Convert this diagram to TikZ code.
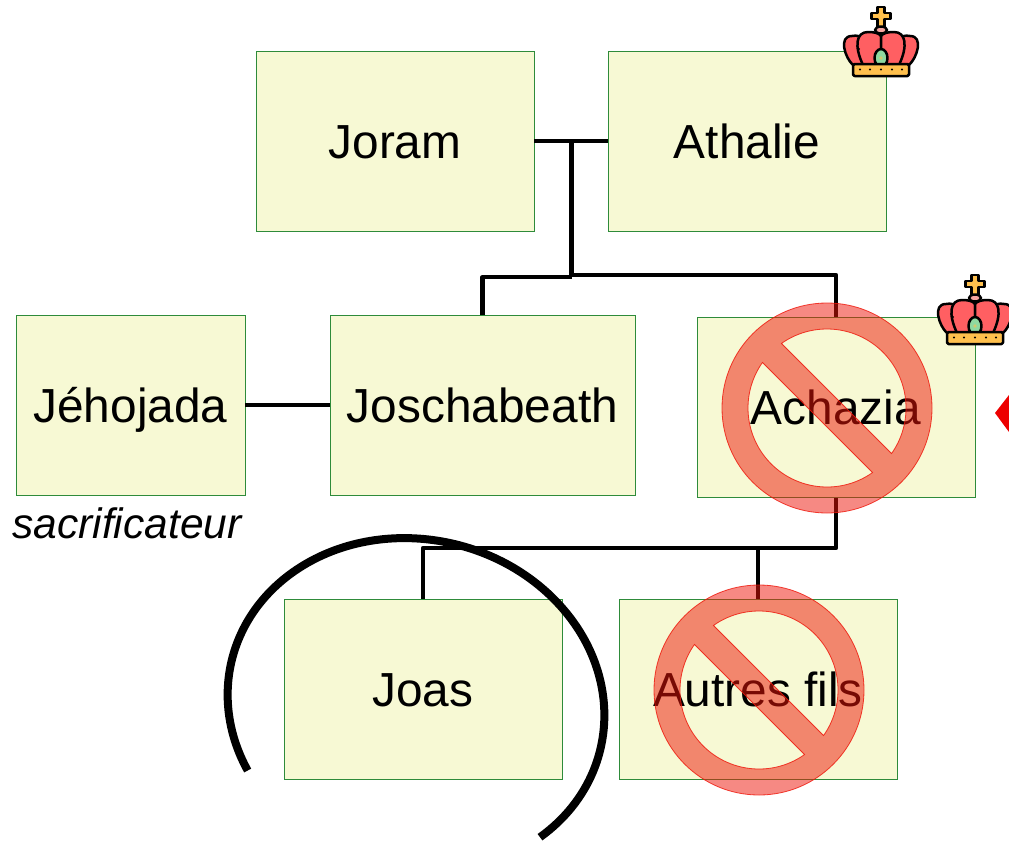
\documentclass[tikz,border=0pt]{standalone}
\usepackage{fontspec}
\setmainfont{Liberation Sans}
\usepackage{tikz}
\usetikzlibrary{positioning, calc}
\definecolor{boxfill}{HTML}{F7F9D4}
\definecolor{boxedge}{HTML}{2E8B3A}
\definecolor{crownred}{HTML}{FF5F62}
\definecolor{crowngold}{HTML}{FFC04D}
\definecolor{crownpink}{HTML}{F5A5A0}
\definecolor{crowngreen}{HTML}{8FD9A0}
\definecolor{banred}{HTML}{EE1408}
\tikzset{
  famille/.style={draw=boxedge, fill=boxfill, line width=.8pt, minimum width=278pt, minimum height=180pt,
    inner sep=0pt, text height=34pt, text depth=0pt, font=\fontsize{47.8}{50}\selectfont},
  lien/.style={line width=4.2pt, line join=round},
  crown/.pic={
    \begin{scope}[line width=2.5pt, draw=black, line join=round]
      \filldraw[fill=crowngold] (-3.5,-7) -- (3.5,-7) -- (3.5,-13) -- (9.5,-13) -- (9.5,-19) -- (3.5,-19)
        -- (3.5,-27) -- (-3.5,-27) -- (-3.5,-19) -- (-9.5,-19) -- (-9.5,-13) -- (-3.5,-13) -- cycle;
      \filldraw[fill=crownpink] (0,-30) ellipse [x radius=6, y radius=3.5];
      \filldraw[fill=crownred] (-28,-65) .. controls (-36,-58) and (-43,-36) .. (-29,-36)
        .. controls (-24,-35) and (-20,-36) .. (-16,-40) -- (-10,-65) -- cycle;
      \filldraw[fill=crownred] (28,-65) .. controls (36,-58) and (43,-36) .. (29,-36)
        .. controls (24,-35) and (20,-36) .. (16,-40) -- (10,-65) -- cycle;
      \filldraw[fill=crownred] (-18,-65) .. controls (-27,-46) and (-25,-32) .. (-13,-32)
        .. controls (-7,-32) and (-2,-33) .. (0,-36) -- (0,-65) -- cycle;
      \filldraw[fill=crownred] (18,-65) .. controls (27,-46) and (25,-32) .. (13,-32)
        .. controls (7,-32) and (2,-33) .. (0,-36) -- (0,-65) -- cycle;
      \filldraw[fill=crowngreen] (0,-58) ellipse [x radius=6.5, y radius=9];
      \filldraw[fill=crowngold, rounded corners=1.5pt] (-28,-64) rectangle (28,-76);
    \end{scope}
    \fill[crowngold!60!crowngreen] (0,-58) circle (1.8pt);
    \foreach \dotx in {-21,-11,0,11,21} \fill (\dotx,-69.5) circle (1.1pt);
    \fill (-22,-49) circle (1.1pt);
  },
  nosign/.pic={
    \filldraw[draw=banred, fill=banred, fill opacity=.5, draw opacity=.8, line width=.8pt, even odd rule]
      (0,0) circle (105pt)
      (125.2:79pt) arc [start angle=125.2, end angle=-35.2, radius=79pt] -- cycle
      (305.2:79pt) arc [start angle=305.2, end angle=144.8, radius=79pt] -- cycle;
  }
}
\begin{document}
\begin{tikzpicture}[x=1pt, y=1pt, on grid]
    \useasboundingbox (0,0) rectangle (1009,-841);
    \node[famille] (joram) at (395,-141) {Joram};
    \node[famille] (athalie) [right=352pt of joram] {Athalie};
    \node[famille, minimum width=305pt] (joschabeath) [below right=264pt and 87.5pt of joram] {Joschabeath};
    \node[famille, minimum width=229pt] (jehojada) [left=352pt of joschabeath] {Jéhojada};
    \node[famille] (achazia) [below right=266.5pt and 441pt of joram] {Achazia};
    \node[famille] (joas) [below left=281.5pt and 413pt of achazia] {Joas};
    \node[famille] (autres) [right=335pt of joas] {Autres fils};
    \node[inner sep=0pt, text height=30pt, text depth=0pt, font=\itshape\fontsize{42.5}{45}\selectfont]
      (sacrificateur) [below=118pt of jehojada, xshift=-3.5pt] {sacrificateur};
    \coordinate (forkA) at ($(joram.east)!.5!(athalie.west)+(.5,0)$);
    \coordinate (forkB) at (forkA |- 0,-275);
    \coordinate (forkC) at (forkA |- 0,-277);
    \coordinate (forkD) at (achazia.south |- 0,-548);
    \draw[lien] (joram) -- (athalie);
    \draw[lien] (jehojada) -- (joschabeath);
    \draw[lien] (forkA) -- (forkB) -| (achazia.north);
    \draw[lien] (forkC) -| (joschabeath.north);
    \draw[lien] (achazia.south) -- (forkD) -| (joas.north);
    \draw[lien] (forkD -| autres.north) -- (autres.north);
    \fill[red!93!black] (995,-413) -- (1009,-395) -- (1009,-432) -- cycle;
    \pic at (881,0) {crown};
    \pic at (975,-268) {crown};
    \pic at (827,-408) {nosign};
    \pic at (759,-690) {nosign};
    \draw[line width=8pt, shift={(416,-705)}, rotate=-13.5]
      (-37:189.6 and 165.5) arc [start angle=-37, end angle=218.5, x radius=189.6, y radius=165.5];
\end{tikzpicture}
\end{document}
